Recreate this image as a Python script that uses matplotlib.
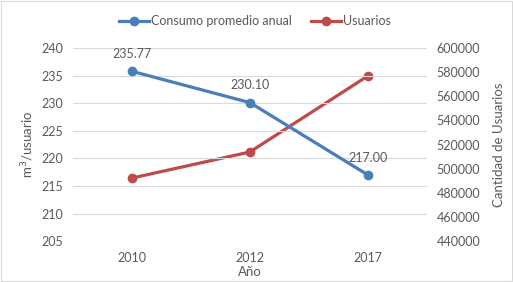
import matplotlib.pyplot as plt

years = ["2010", "2012", "2017"]
consumo = [235.77, 230.10, 217.00]
usuarios = [492200, 513800, 576800]

plt.rcParams['font.family'] = ['Lato', 'DejaVu Sans']
gris = "#595959"
azul = "#4a7ebb"
rojo = "#be4b48"

fig = plt.figure(figsize=(5.13, 2.82), dpi=100)
ax = fig.add_axes([0.142, 0.145, 0.69, 0.685])
ax2 = ax.twinx()

x = range(len(years))
l1, = ax.plot(x, consumo, color=azul, lw=2.3, marker="o", ms=6, label="Consumo promedio anual")
l2, = ax2.plot(x, usuarios, color=rojo, lw=2.3, marker="o", ms=6, label="Usuarios")
ax.set_zorder(ax2.get_zorder() + 1)
ax.patch.set_visible(False)

for xi, v in zip(x, consumo):
    ax.annotate(f"{v:.2f}", (xi, v), xytext=(0, 8), textcoords="offset points",
                ha="center", va="bottom", fontsize=9, color=gris)

ax.set_xlim(-0.5, 2.5)
ax.set_ylim(205, 240)
ax.set_yticks(range(205, 241, 5))
ax2.set_ylim(440000, 600000)
ax2.set_yticks(range(440000, 600001, 20000))
ax.set_xticks(list(x))
ax.set_xticklabels(years)

ax.grid(axis="y", color="#d9d9d9", lw=0.8)
ax.set_axisbelow(True)
for a in (ax, ax2):
    for s in a.spines.values():
        s.set_visible(False)
    a.tick_params(length=0, labelsize=9, colors=gris, pad=7)
ax.tick_params(axis="x", pad=8)

ax.set_xlabel("Año", fontsize=9.5, color=gris, labelpad=1)
ax.set_ylabel("m$^3$/usuario", fontsize=9.5, color=gris, labelpad=4)
ax2.set_ylabel("Cantidad de Usuarios", fontsize=9.5, color=gris, labelpad=9)

fig.legend(handles=[l1, l2], loc="center", bbox_to_anchor=(0.497, 0.925), ncol=2,
           frameon=False, fontsize=9, labelcolor=gris, handlelength=2.4,
           columnspacing=1.6, handletextpad=0.15)

fig.patches.append(plt.Rectangle((0.002, 0.002), 0.996, 0.996, transform=fig.transFigure,
                                 fill=False, edgecolor="#d9d9d9", lw=0.8))
fig.savefig("out.png")
